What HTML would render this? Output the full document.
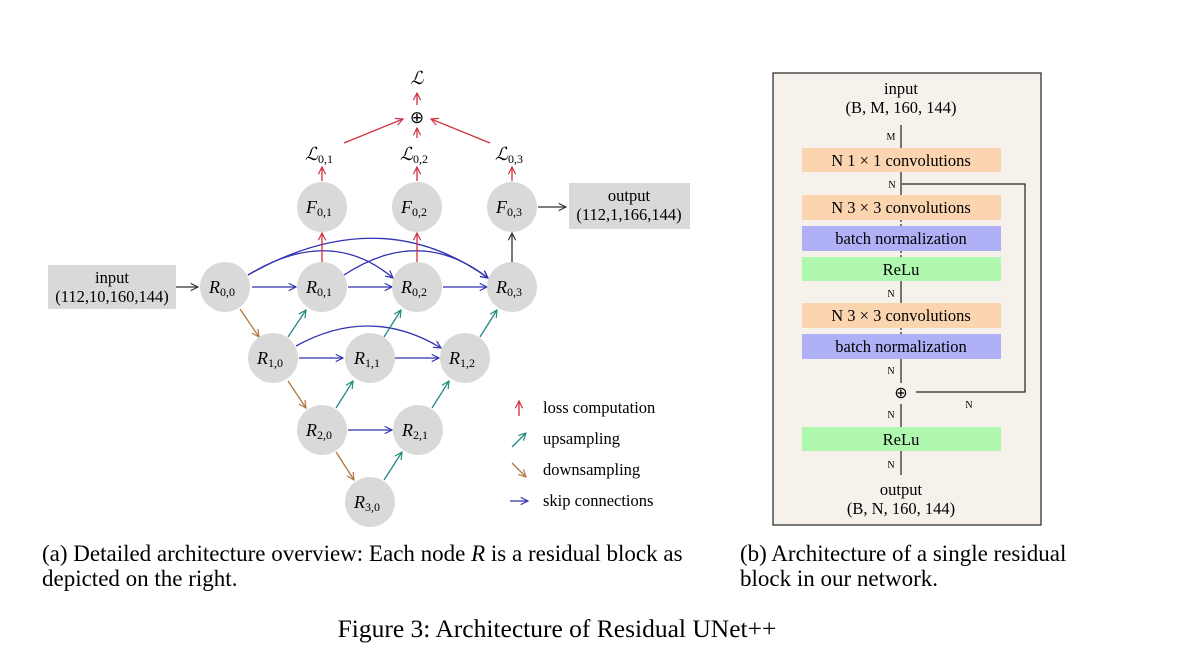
<!DOCTYPE html>
<html><head><meta charset="utf-8"><style>
body{margin:0;background:#fff;}
svg{display:block;font-family:"Liberation Serif",serif;}
</style></head><body>
<svg width="1200" height="667" viewBox="0 0 1200 667" xmlns="http://www.w3.org/2000/svg">
<defs>
<marker id="ab" viewBox="0 0 10 10" refX="9" refY="5" markerWidth="7" markerHeight="7" orient="auto"><path d="M1,1 L9,5 L1,9" fill="none" stroke="#3030b0" stroke-width="1.3"/></marker>
<marker id="ar" viewBox="0 0 10 10" refX="9" refY="5" markerWidth="7" markerHeight="7" orient="auto"><path d="M1,1 L9,5 L1,9" fill="none" stroke="#d03040" stroke-width="1.3"/></marker>
<marker id="at" viewBox="0 0 10 10" refX="9" refY="5" markerWidth="7" markerHeight="7" orient="auto"><path d="M1,1 L9,5 L1,9" fill="none" stroke="#208a80" stroke-width="1.3"/></marker>
<marker id="ao" viewBox="0 0 10 10" refX="9" refY="5" markerWidth="7" markerHeight="7" orient="auto"><path d="M1,1 L9,5 L1,9" fill="none" stroke="#b07840" stroke-width="1.3"/></marker>
<marker id="ak" viewBox="0 0 10 10" refX="9" refY="5" markerWidth="7" markerHeight="7" orient="auto"><path d="M1,1 L9,5 L1,9" fill="none" stroke="#333" stroke-width="1.3"/></marker>
</defs>

<rect x="48" y="265" width="128" height="44" fill="#d9d9d9"/>
<text x="112" y="283" font-size="16.5" text-anchor="middle">input</text>
<text x="112" y="302" font-size="16.5" text-anchor="middle">(112,10,160,144)</text>
<rect x="569" y="183" width="121" height="46" fill="#d9d9d9"/>
<text x="629" y="201" font-size="16.5" text-anchor="middle">output</text>
<text x="629" y="220" font-size="16.5" text-anchor="middle">(112,1,166,144)</text>

<g stroke-width="1.3" fill="none">
<line x1="176" y1="287" x2="198" y2="287" stroke="#333" marker-end="url(#ak)"/>
<line x1="538" y1="207" x2="566" y2="207" stroke="#333" marker-end="url(#ak)"/>
<line x1="512" y1="263" x2="512" y2="233" stroke="#333" marker-end="url(#ak)"/>
<g stroke="#3030b0">
<line x1="252" y1="287" x2="296" y2="287" marker-end="url(#ab)"/>
<line x1="348" y1="287" x2="392" y2="287" marker-end="url(#ab)"/>
<line x1="443" y1="287" x2="487" y2="287" marker-end="url(#ab)"/>
<line x1="299" y1="358" x2="343" y2="358" marker-end="url(#ab)"/>
<line x1="395" y1="358" x2="439" y2="358" marker-end="url(#ab)"/>
<line x1="348" y1="430" x2="392" y2="430" marker-end="url(#ab)"/>
<path d="M248,275 Q330,225 393,278" marker-end="url(#ab)"/>
<path d="M248,275 Q380,200 488,278" marker-end="url(#ab)"/>
<path d="M344,275 Q420,225 488,278" marker-end="url(#ab)"/>
<path d="M296,346 Q370,305 441,348" marker-end="url(#ab)"/>
</g>
<g stroke="#b07840">
<line x1="240" y1="309" x2="259" y2="337" marker-end="url(#ao)"/>
<line x1="288" y1="381" x2="306" y2="408" marker-end="url(#ao)"/>
<line x1="336" y1="452" x2="354" y2="480" marker-end="url(#ao)"/>
</g>
<g stroke="#208a80">
<line x1="288" y1="337" x2="306" y2="310" marker-end="url(#at)"/>
<line x1="384" y1="337" x2="401" y2="310" marker-end="url(#at)"/>
<line x1="480" y1="337" x2="497" y2="310" marker-end="url(#at)"/>
<line x1="336" y1="408" x2="353" y2="381" marker-end="url(#at)"/>
<line x1="432" y1="408" x2="449" y2="381" marker-end="url(#at)"/>
<line x1="384" y1="480" x2="402" y2="452" marker-end="url(#at)"/>
</g>
<g stroke="#d03040">
<line x1="322" y1="263" x2="322" y2="233" marker-end="url(#ar)"/>
<line x1="417" y1="263" x2="417" y2="233" marker-end="url(#ar)"/>
<line x1="322" y1="181" x2="322" y2="167" marker-end="url(#ar)"/>
<line x1="417" y1="181" x2="417" y2="167" marker-end="url(#ar)"/>
<line x1="512" y1="181" x2="512" y2="167" marker-end="url(#ar)"/>
<line x1="417" y1="138" x2="417" y2="128" marker-end="url(#ar)"/>
<line x1="417" y1="105" x2="417" y2="93" marker-end="url(#ar)"/>
<line x1="344" y1="143" x2="403" y2="119" marker-end="url(#ar)"/>
<line x1="490" y1="143" x2="431" y2="119" marker-end="url(#ar)"/>
</g>
</g>

<g fill="#d9d9d9">
<circle cx="225" cy="287" r="25"/><circle cx="322" cy="287" r="25"/><circle cx="417" cy="287" r="25"/><circle cx="512" cy="287" r="25"/>
<circle cx="322" cy="207" r="25"/><circle cx="417" cy="207" r="25"/><circle cx="512" cy="207" r="25"/>
<circle cx="273" cy="358" r="25"/><circle cx="370" cy="358" r="25"/><circle cx="465" cy="358" r="25"/>
<circle cx="322" cy="430" r="25"/><circle cx="418" cy="430" r="25"/>
<circle cx="370" cy="502" r="25"/>
</g>
<g font-size="18" font-style="italic" text-anchor="middle">
<text x="222" y="293">R<tspan font-size="12" font-style="normal" dy="3">0,0</tspan></text>
<text x="319" y="293">R<tspan font-size="12" font-style="normal" dy="3">0,1</tspan></text>
<text x="414" y="293">R<tspan font-size="12" font-style="normal" dy="3">0,2</tspan></text>
<text x="509" y="293">R<tspan font-size="12" font-style="normal" dy="3">0,3</tspan></text>
<text x="319" y="213">F<tspan font-size="12" font-style="normal" dy="3">0,1</tspan></text>
<text x="414" y="213">F<tspan font-size="12" font-style="normal" dy="3">0,2</tspan></text>
<text x="509" y="213">F<tspan font-size="12" font-style="normal" dy="3">0,3</tspan></text>
<text x="270" y="364">R<tspan font-size="12" font-style="normal" dy="3">1,0</tspan></text>
<text x="367" y="364">R<tspan font-size="12" font-style="normal" dy="3">1,1</tspan></text>
<text x="462" y="364">R<tspan font-size="12" font-style="normal" dy="3">1,2</tspan></text>
<text x="319" y="436">R<tspan font-size="12" font-style="normal" dy="3">2,0</tspan></text>
<text x="415" y="436">R<tspan font-size="12" font-style="normal" dy="3">2,1</tspan></text>
<text x="367" y="508">R<tspan font-size="12" font-style="normal" dy="3">3,0</tspan></text>
<text x="319" y="160">ℒ<tspan font-size="12" font-style="normal" dy="3">0,1</tspan></text>
<text x="414" y="160">ℒ<tspan font-size="12" font-style="normal" dy="3">0,2</tspan></text>
<text x="509" y="160">ℒ<tspan font-size="12" font-style="normal" dy="3">0,3</tspan></text>
<text x="417" y="84">ℒ</text>
</g>
<text x="417" y="123" font-size="17" text-anchor="middle" font-family="DejaVu Sans">⊕</text>

<g stroke-width="1.3" fill="none">
<line x1="519" y1="416" x2="519" y2="401" stroke="#d03040" marker-end="url(#ar)"/>
<line x1="512" y1="447" x2="526" y2="433" stroke="#208a80" marker-end="url(#at)"/>
<line x1="512" y1="463" x2="526" y2="477" stroke="#b07840" marker-end="url(#ao)"/>
<line x1="510" y1="501" x2="528" y2="501" stroke="#3030b0" marker-end="url(#ab)"/>
</g>
<g font-size="16.5">
<text x="543" y="413">loss computation</text>
<text x="543" y="444">upsampling</text>
<text x="543" y="475">downsampling</text>
<text x="543" y="506">skip connections</text>
</g>

<rect x="773" y="73" width="268" height="452" fill="#f7f1ec" stroke="#333" stroke-width="1.3"/>
<g stroke="#222" stroke-width="1.2" fill="none">
<line x1="901" y1="125" x2="901" y2="148"/>
<line x1="901" y1="172" x2="901" y2="195"/>
<line x1="901" y1="220" x2="901" y2="226" stroke-dasharray="2 2"/>
<line x1="901" y1="251" x2="901" y2="257" stroke-dasharray="2 2"/>
<line x1="901" y1="281" x2="901" y2="303"/>
<line x1="901" y1="328" x2="901" y2="334" stroke-dasharray="2 2"/>
<line x1="901" y1="359" x2="901" y2="383"/>
<line x1="901" y1="404" x2="901" y2="427"/>
<line x1="901" y1="451" x2="901" y2="475"/>
<polyline points="902,184 1025,184 1025,392 916,392"/>
</g>
<rect x="802" y="148" width="199" height="24" fill="#fbd5b0"/>
<rect x="802" y="195" width="199" height="25" fill="#fbd5b0"/>
<rect x="802" y="226" width="199" height="25" fill="#b0b0f7"/>
<rect x="802" y="257" width="199" height="24" fill="#b0f7b0"/>
<rect x="802" y="303" width="199" height="25" fill="#fbd5b0"/>
<rect x="802" y="334" width="199" height="25" fill="#b0b0f7"/>
<rect x="802" y="427" width="199" height="24" fill="#b0f7b0"/>
<g font-size="16.5" text-anchor="middle">
<text x="901" y="94">input</text>
<text x="901" y="113">(B, M, 160, 144)</text>
<text x="901" y="166">N 1 × 1 convolutions</text>
<text x="901" y="213">N 3 × 3 convolutions</text>
<text x="901" y="244">batch normalization</text>
<text x="901" y="275">ReLu</text>
<text x="901" y="321">N 3 × 3 convolutions</text>
<text x="901" y="352">batch normalization</text>
<text x="901" y="445">ReLu</text>
<text x="901" y="495">output</text>
<text x="901" y="514">(B, N, 160, 144)</text>
</g>
<g font-size="10" text-anchor="middle">
<text x="891" y="140">M</text>
<text x="892" y="188">N</text>
<text x="891" y="297">N</text>
<text x="891" y="374">N</text>
<text x="891" y="418">N</text>
<text x="891" y="468">N</text>
<text x="969" y="408">N</text>
</g>
<text x="901" y="398" font-size="16" text-anchor="middle" font-family="DejaVu Sans">⊕</text>

<g font-size="23">
<text x="42" y="561">(a) Detailed architecture overview: Each node <tspan font-style="italic">R</tspan> is a residual block as</text>
<text x="42" y="586">depicted on the right.</text>
<text x="740" y="561">(b) Architecture of a single residual</text>
<text x="740" y="586">block in our network.</text>
</g>
<text x="557" y="637" font-size="25.5" text-anchor="middle">Figure 3: Architecture of Residual UNet++</text>
</svg>
</body></html>
